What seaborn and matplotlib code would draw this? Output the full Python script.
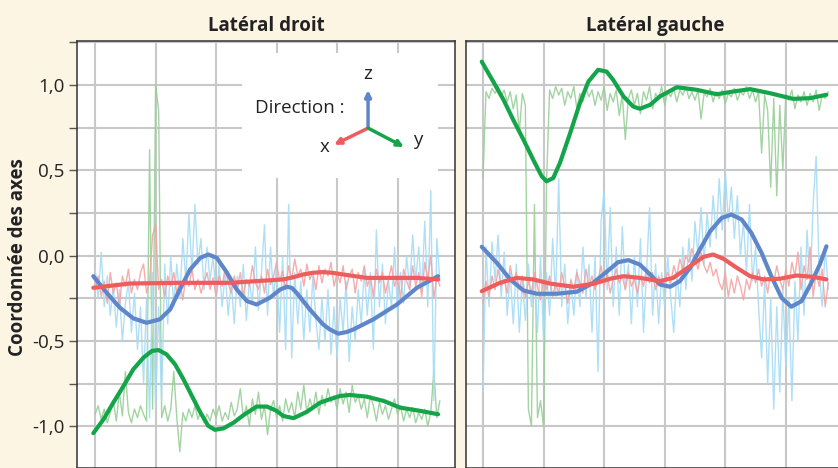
import numpy as np
import pandas as pd
import matplotlib
matplotlib.use('Agg')
import matplotlib.pyplot as plt
import seaborn as sns
from matplotlib.ticker import MultipleLocator, FixedLocator, FixedFormatter
from matplotlib.patches import Rectangle

sns.set_theme(style='whitegrid')
plt.rcParams['font.family'] = ['Open Sans', 'DejaVu Sans']

# ---- raw (noisy) signals, one sample every 0.05 time unit ----
RAW_STEP = 0.05

droit_x_raw = [-0.20, -0.12, -0.24, -0.15, -0.28, -0.10, -0.22, -0.16, -0.30, -0.12,
               -0.18, -0.08, -0.22, -0.14, -0.20, -0.10, -0.05, -0.22, -0.15, 0.12,
               0.18, -0.20, -0.14, -0.24, -0.12, -0.18, -0.10, -0.22, -0.15, -0.26,
               -0.12, -0.18, -0.08, -0.20, -0.14, -0.22, -0.16, -0.10, -0.20, -0.13,
               -0.24, -0.12, -0.18, -0.07, -0.16, -0.22, -0.12, -0.19, -0.10, -0.24,
               -0.14, -0.18, -0.06, -0.16, -0.20, -0.12, -0.22, -0.08, -0.17, -0.12,
               -0.04, -0.15, -0.09, -0.20, -0.06, -0.14, -0.02, -0.12, -0.08, -0.18,
               -0.05, -0.14, -0.10, -0.20, -0.06, -0.16, -0.08, -0.12, -0.04, -0.18,
               -0.10, -0.16, -0.06, -0.20, -0.12, -0.08, -0.22, -0.10, -0.15, -0.06,
               -0.18, -0.12, -0.24, -0.08, -0.16, -0.10, -0.22, -0.14, -0.06, -0.18,
               -0.12, -0.25, -0.08, -0.15, -0.20, -0.06, -0.18, -0.10, -0.24, -0.04,
               -0.14, 0.00, -0.25, -0.12, -0.18]
droit_y_raw = [-0.93, -0.88, -0.96, -0.90, -0.98, -0.92, -0.85, -0.97, -0.80, -0.94,
               -0.68, -0.92, -0.98, -0.90, -0.95, -0.88, -0.93, -0.97, 0.62, -0.90,
               1.00, 0.85, -0.95, -0.88, -0.97, -0.90, -0.68, -0.95, -1.15, -0.92,
               -0.97, -0.90, -0.95, -0.88, -0.96, -0.91, -0.98, -0.93, -0.97, -0.90,
               -0.95, -0.88, -0.97, -0.92, -0.96, -0.86, -0.94, -0.90, -0.78, -0.95,
               -0.88, -1.00, -0.84, -0.93, -0.80, -0.96, -0.88, -1.05, -0.90, -0.85,
               -0.95, -0.88, -0.97, -0.84, -0.92, -0.86, -0.95, -0.80, -0.90, -0.76,
               -0.92, -0.84, -0.90, -0.80, -0.93, -0.82, -0.88, -0.78, -0.86, -0.82,
               -0.90, -0.78, -0.87, -0.80, -0.92, -0.76, -0.86, -0.82, -0.90, -0.84,
               -0.95, -0.82, -0.88, -0.97, -0.86, -0.93, -0.88, -0.96, -0.90, -0.84,
               -0.93, -0.88, -0.97, -0.90, -0.95, -0.89, -0.98, -0.92, -0.96, -0.90,
               -1.00, -0.92, -0.68, -0.95, -0.85]
droit_z_raw = [-0.08, -0.25, 0.02, -0.30, -0.12, -0.35, -0.18, -0.42, -0.20, -0.50,
               -0.28, -0.15, -0.45, -0.22, -0.55, -0.30, -0.75, -0.25, -0.95, -0.10,
               -0.90, -0.30, -0.85, -0.05, -0.40, 0.00, -0.30, -0.05, -0.25, 0.10,
               -0.15, 0.25, -0.10, 0.30, -0.05, 0.10, -0.20, 0.05, -0.15, 0.00,
               -0.25, -0.05, -0.30, -0.10, -0.35, -0.15, -0.40, -0.12, -0.30, -0.05,
               -0.38, -0.15, -0.28, 0.05, -0.32, -0.10, 0.18, -0.35, 0.05, -0.25,
               -0.05, -0.45, 0.00, -0.55, 0.30, -0.60, -0.10, -0.40, -0.15, -0.50,
               -0.20, -0.45, -0.12, -0.38, -0.55, -0.25, -0.50, -0.20, -0.58, -0.30,
               -0.60, -0.25, -0.45, -0.15, -0.62, -0.30, -0.50, -0.20, -0.40, -0.08,
               -0.35, -0.10, -0.55, 0.15, -0.30, -0.05, -0.40, -0.15, -0.30, 0.05,
               -0.35, -0.10, -0.28, 0.00, -0.20, 0.12, -0.15, 0.05, -0.22, 0.20,
               -0.30, 0.38, -0.85, 0.10, -0.15]

gauche_x_raw = [-0.28, -0.15, -0.24, -0.12, -0.20, -0.08, -0.18, -0.14, -0.22, -0.06,
                -0.16, -0.10, -0.20, -0.12, -0.25, -0.15, -0.22, -0.10, -0.18, -0.26,
                -0.14, -0.20, -0.12, -0.24, -0.16, -0.22, -0.10, -0.18, -0.28, -0.14,
                -0.20, -0.10, -0.16, -0.22, -0.08, -0.18, -0.12, -0.20, -0.14, -0.06,
                -0.18, -0.10, -0.22, -0.14, -0.08, -0.16, -0.12, -0.20, -0.10, -0.18,
                -0.14, -0.22, -0.12, -0.18, -0.08, -0.16, -0.10, -0.20, -0.12, -0.18,
                -0.14, -0.10, -0.16, -0.06, -0.12, -0.02, -0.08, 0.00, -0.04, 0.04,
                -0.02, -0.08, 0.02, -0.06, -0.10, -0.04, -0.12, -0.08, -0.16, -0.20,
                -0.10, -0.24, -0.14, -0.22, -0.12, -0.18, -0.26, -0.14, -0.20, -0.10,
                -0.16, -0.08, -0.18, -0.12, -0.22, -0.10, -0.16, -0.06, -0.14, -0.20,
                -0.08, -0.18, -0.04, -0.12, 0.02, -0.20, -0.06, -0.14, 0.05, -0.24,
                -0.10, -0.18, -0.08, -0.30, -0.16]
gauche_y_raw = [0.45, 0.96, 0.92, 0.98, 0.95, 0.99, 0.93, 0.97, 0.90, 0.96,
                0.86, 0.94, 0.72, 0.95, 0.88, -0.90, -1.00, 0.30, -0.95, -0.85,
                -1.00, 0.44, 0.97, 0.92, 0.99, 0.94, 0.98, 0.88, 0.96, 0.92,
                0.99, 0.86, 0.95, 0.90, 0.98, 0.93, 0.97, 0.88, 0.96, 0.91,
                0.99, 0.85, 0.95, 0.90, 0.97, 0.82, 0.94, 0.68, 0.92, 0.97,
                0.88, 0.95, 0.83, 0.96, 0.91, 0.99, 0.86, 0.95, 0.92, 0.99,
                0.88, 0.96, 0.93, 0.98, 0.90, 0.97, 0.94, 0.99, 0.92, 0.96,
                0.91, 0.97, 0.80, 0.95, 0.93, 0.98, 0.90, 0.96, 0.92, 0.97,
                0.89, 0.95, 0.93, 0.98, 0.91, 0.96, 0.94, 0.99, 0.92, 0.97,
                0.90, 0.96, 0.60, 0.94, 0.85, 0.40, 0.92, 0.35, 0.88, 0.50,
                0.95, 0.91, 0.97, 0.86, 0.94, 0.90, 0.96, 0.88, 0.95, 0.90,
                0.97, 0.85, 0.94, 0.92, 0.96]
gauche_z_raw = [-0.80, 0.05, -0.30, 0.08, -0.15, 0.12, -0.25, 0.02, -0.35, -0.10,
                -0.40, -0.05, -0.45, -0.15, -0.38, -0.05, -0.30, -0.10, -0.45, 0.00,
                -0.50, -0.10, -0.35, 0.10, -0.25, 0.45, -0.30, -0.05, -0.40, -0.15,
                -0.35, -0.08, -0.30, 0.05, -0.25, -0.05, -0.45, 0.00, -0.68, 0.20,
                0.38, -0.20, 0.28, -0.30, 0.05, -0.35, 0.17, -0.20, -0.05, -0.40,
                0.00, -0.30, 0.10, -0.45, -0.10, 0.28, -0.35, -0.05, -0.40, -0.10,
                -0.30, 0.00, -0.25, -0.45, -0.10, -0.30, 0.05, -0.20, 0.10, -0.15,
                0.20, 0.00, 0.28, -0.05, 0.25, 0.05, 0.35, 0.10, 0.45, 0.15,
                0.50, 0.20, 0.40, 0.10, 0.35, 0.00, 0.20, -0.10, 0.30, -0.15,
                0.05, -0.30, -0.60, -0.15, -0.75, -0.25, -0.90, -0.30, -0.80, -0.20,
                -0.65, -0.25, -0.85, -0.15, -0.50, 0.05, -0.35, 0.15, -0.20, 0.30,
                0.58, -0.10, -0.30, 0.05, -0.20]

# ---- smoothed curves ----
droit_z_t = [-0.03, 0.19, 0.41, 0.63, 0.85, 1.07, 1.24, 1.40, 1.57, 1.74, 1.87, 2.01,
             2.18, 2.34, 2.51, 2.67, 2.89, 3.06, 3.17, 3.25, 3.33, 3.55, 3.77, 3.88,
             4.02, 4.16, 4.27, 4.60, 4.99, 5.32, 5.67]
droit_z_fit = [-0.121, -0.218, -0.306, -0.368, -0.394, -0.374, -0.316, -0.199, -0.082,
               -0.013, 0.006, -0.013, -0.101, -0.199, -0.267, -0.287, -0.247, -0.199,
               -0.183, -0.189, -0.218, -0.316, -0.404, -0.433, -0.458, -0.448, -0.433,
               -0.374, -0.287, -0.189, -0.121]
droit_x_t = [-0.03, 0.58, 1.40, 2.23, 2.67, 3.11, 3.28, 3.44, 3.60, 3.77, 3.94, 4.10,
             4.49, 5.32, 5.67]
droit_x_fit = [-0.189, -0.164, -0.160, -0.160, -0.150, -0.140, -0.127, -0.111, -0.101,
               -0.097, -0.102, -0.111, -0.131, -0.131, -0.140]
droit_y_t = [-0.03, 0.14, 0.30, 0.47, 0.63, 0.80, 0.94, 1.05, 1.18, 1.32, 1.46, 1.60,
             1.74, 1.87, 1.98, 2.12, 2.29, 2.45, 2.67, 2.84, 3.00, 3.11, 3.28, 3.50,
             3.72, 3.88, 4.05, 4.21, 4.49, 4.77, 5.04, 5.37, 5.67]
droit_y_fit = [-1.041, -0.959, -0.862, -0.764, -0.667, -0.598, -0.559, -0.554, -0.579,
               -0.637, -0.725, -0.823, -0.920, -0.998, -1.021, -1.013, -0.979, -0.936,
               -0.885, -0.885, -0.910, -0.940, -0.953, -0.916, -0.862, -0.842, -0.823,
               -0.817, -0.827, -0.852, -0.891, -0.910, -0.930]

gauche_y_t = [-0.02, 0.17, 0.34, 0.50, 0.67, 0.83, 0.97, 1.05, 1.16, 1.27, 1.44, 1.60,
              1.74, 1.90, 2.04, 2.15, 2.32, 2.48, 2.59, 2.76, 2.92, 3.20, 3.53, 3.86,
              4.13, 4.41, 4.74, 5.12, 5.40, 5.67]
gauche_y_fit = [1.136, 1.019, 0.912, 0.795, 0.678, 0.561, 0.464, 0.435, 0.454, 0.542,
                0.718, 0.893, 1.019, 1.088, 1.078, 1.029, 0.932, 0.873, 0.860, 0.883,
                0.932, 0.986, 0.971, 0.945, 0.961, 0.975, 0.951, 0.918, 0.922, 0.942]
gauche_z_t = [-0.02, 0.23, 0.45, 0.67, 0.89, 1.22, 1.55, 1.82, 2.10, 2.23, 2.40, 2.59,
              2.76, 2.92, 3.09, 3.25, 3.42, 3.58, 3.75, 3.94, 4.10, 4.27, 4.43, 4.60,
              4.76, 4.93, 5.09, 5.26, 5.42, 5.56, 5.67]
gauche_z_fit = [0.051, -0.043, -0.140, -0.205, -0.224, -0.224, -0.212, -0.160, -0.078,
                -0.039, -0.027, -0.053, -0.111, -0.170, -0.183, -0.150, -0.072, 0.035,
                0.142, 0.220, 0.240, 0.211, 0.133, 0.015, -0.121, -0.248, -0.300,
                -0.267, -0.160, -0.053, 0.054]
gauche_x_t = [-0.02, 0.28, 0.56, 0.83, 1.10, 1.49, 1.82, 2.10, 2.32, 2.59, 2.92, 3.14,
              3.42, 3.64, 3.80, 3.97, 4.19, 4.41, 4.63, 4.90, 5.18, 5.45, 5.67]
gauche_x_fit = [-0.209, -0.160, -0.131, -0.140, -0.164, -0.183, -0.166, -0.136, -0.121,
                -0.131, -0.150, -0.131, -0.062, -0.008, 0.006, -0.019, -0.072, -0.121,
                -0.140, -0.136, -0.117, -0.125, -0.140]

titles = ['Latéral droit', 'Latéral gauche']
ytick_vals = [-1.0, -0.5, 0.0, 0.5, 1.0]
ytick_text = ['-1,0', '-0,5', '0,0', '0,5', '1,0']

c_fit = {'x': '#ee5d5d', 'y': '#14a54a', 'z': '#5f86c9'}
c_raw = {'x': '#f5a3a3', 'y': '#98cf98', 'z': '#a6dcf5'}
BG = '#fdf5e3'
GRID = '#c8c8c8'

panels = [
    (titles[0], droit_x_raw, droit_y_raw, droit_z_raw,
     (droit_x_t, droit_x_fit), (droit_y_t, droit_y_fit), (droit_z_t, droit_z_fit)),
    (titles[1], gauche_x_raw, gauche_y_raw, gauche_z_raw,
     (gauche_x_t, gauche_x_fit), (gauche_y_t, gauche_y_fit), (gauche_z_t, gauche_z_fit)),
]

fig = plt.figure(figsize=(8.38, 4.68), dpi=100)
fig.patch.set_facecolor(BG)
ax_l = fig.add_axes([77 / 838, 0, 378 / 838, 427 / 468])
ax_r = fig.add_axes([466 / 838, 0, 378 / 838, 427 / 468])
axes = [ax_l, ax_r]
xlims = [(-0.30, 5.95), (-0.28, 5.96)]

for ax, xl, (title, xr, yr, zr, xf, yf, zf) in zip(axes, xlims, panels):
    ax.set_facecolor('white')
    # raw traces
    for key, vals in (('y', yr), ('z', zr), ('x', xr)):
        t = np.arange(len(vals)) * RAW_STEP
        sns.lineplot(x=t, y=vals, ax=ax, color=c_raw[key], lw=1.0, alpha=0.9, zorder=3)
    # smoothed curves
    for key, (t, v) in (('y', yf), ('z', zf), ('x', xf)):
        sns.lineplot(x=t, y=v, ax=ax, color=c_fit[key], lw=3.0, zorder=5,
                     solid_joinstyle='round', solid_capstyle='round')

    ax.set_xlim(*xl)
    ax.set_ylim(-1.245, 1.257)
    ax.xaxis.set_major_locator(MultipleLocator(1))
    ax.yaxis.set_major_locator(FixedLocator(ytick_vals))
    ax.yaxis.set_minor_locator(MultipleLocator(0.25))
    ax.grid(which='both', color=GRID, lw=1.5, zorder=0)
    ax.set_axisbelow(True)
    ax.set_xticklabels([])
    ax.tick_params(axis='x', length=0)
    ax.set_xlabel('')
    ax.set_ylabel('')
    ax.set_title(title, fontsize=13.5, fontweight='bold', color='#222222', pad=7)
    for s in ax.spines.values():
        s.set_color('#333333')
        s.set_linewidth(1.1)

ax_l.yaxis.set_major_formatter(FixedFormatter(ytick_text))
ax_l.tick_params(axis='y', which='both', left=True, direction='out', length=6,
                 width=1, color='#555555', labelsize=13.5, labelcolor='#222222', pad=3)
ax_r.tick_params(axis='y', which='both', left=False, labelleft=False)
ax_l.set_ylabel('Coordonnée des axes', fontsize=13.5, fontweight='bold', color='#222222')
ax_l.yaxis.set_label_coords(-0.129, 0.494)

# direction inset
ax_l.add_patch(Rectangle((0.4365, 0.679), 0.5185, 0.293, transform=ax_l.transAxes,
                         facecolor='white', edgecolor='none', zorder=1))
ax_l.text(0.59, 0.843, 'Direction :', transform=ax_l.transAxes, fontsize=13.5,
          ha='center', va='center', color='#222222', zorder=6)
origin = (0.770, 0.796)
for key, tip, lab, lpos in (('z', (0.770, 0.885), 'z', (0.770, 0.922)),
                            ('x', (0.680, 0.757), 'x', (0.654, 0.752)),
                            ('y', (0.865, 0.752), 'y', (0.902, 0.768))):
    ax_l.annotate('', xy=tip, xytext=origin, xycoords='axes fraction',
                  arrowprops=dict(arrowstyle='-|>', color=c_fit[key], lw=2.5,
                                  mutation_scale=9, shrinkA=0, shrinkB=0), zorder=6)
    ax_l.text(lpos[0], lpos[1], lab, transform=ax_l.transAxes, fontsize=13.5,
              ha='center', va='center', color='#222222', zorder=6)

fig.savefig('out.png', dpi=100, facecolor=BG)
